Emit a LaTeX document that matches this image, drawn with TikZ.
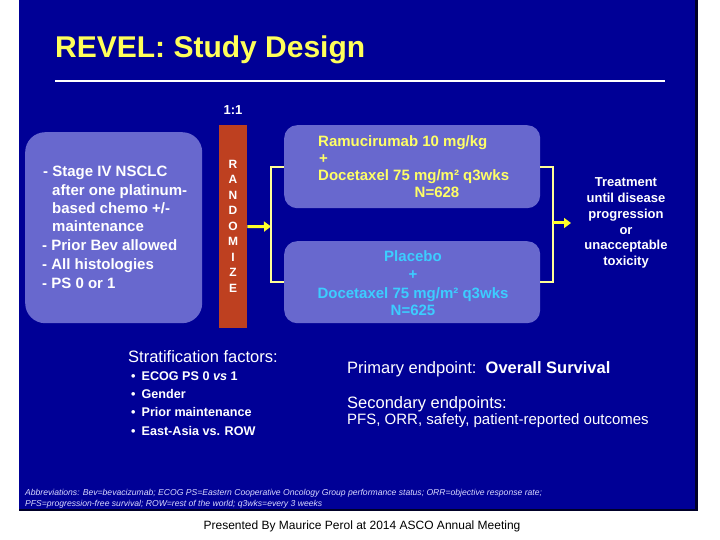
\documentclass[tikz,border=0pt]{standalone}
\usepackage{fontspec}
\setmainfont{Liberation Sans}
\usetikzlibrary{arrows.meta}
\definecolor{slidebg}{RGB}{0,0,150}
\definecolor{slideedge}{RGB}{0,0,40}
\definecolor{boxfill}{RGB}{104,104,206}
\definecolor{rust}{RGB}{190,64,32}
\definecolor{ttlyellow}{RGB}{255,255,90}
\definecolor{armyellow}{RGB}{255,255,102}
\definecolor{armcyan}{RGB}{60,205,255}
\definecolor{brk}{RGB}{255,255,150}
\definecolor{arrowyellow}{RGB}{255,255,40}
\newcommand\setfs[1]{\fontsize{#1bp}{#1bp}\selectfont}
\begin{document}
\begin{tikzpicture}[x=1bp,y=-1bp,
  txt/.style={inner sep=0pt, anchor=base west, text=white},
  ctxt/.style={inner sep=0pt, anchor=base, text=white},
  boxtxt/.style={txt, font=\setfs{15}\bfseries},
  armtop/.style={inner sep=0pt, anchor=base west, text=armyellow, font=\setfs{15}\bfseries},
  armbot/.style={inner sep=0pt, anchor=base, text=armcyan, font=\setfs{15}\bfseries},
  treat/.style={ctxt, font=\setfs{13}\bfseries},
  item/.style={txt, font=\setfs{12.6}\bfseries},
  bigtxt/.style={txt, font=\setfs{16.5}},
  abbr/.style={txt, font=\setfs{8.6}\itshape, text=white!85!blue},
  bracket/.style={draw=brk, line width=2bp},
  arr/.style={draw=arrowyellow, line width=3bp, -{Triangle[length=7bp,width=10bp]}},
  roundbox/.style={fill=boxfill, draw=none, inner sep=0pt}
]
\useasboundingbox (0,0) rectangle (720,540);
\fill[white] (0,0) rectangle (720,540);
\fill[slideedge] (19,0) rectangle (698,511);
\fill[slidebg] (19,0) rectangle (695,508.5);

% title
\node[txt, text=ttlyellow, font=\setfs{30}\bfseries] (title) at (55,58) {REVEL: Study Design};
\draw[white, line width=2bp] (55,81) -- (665,81);

% left eligibility box
\node[roundbox, rounded corners=20bp, minimum width=177bp, minimum height=191bp, anchor=north west] (elig) at (25,132) {};
\node[boxtxt] (e1) at (43,177) {- Stage IV NSCLC};
\node[boxtxt] (e2) at (52,196) {after one platinum-};
\node[boxtxt] (e3) at (52,214) {based chemo +/-};
\node[boxtxt] (e4) at (52,232) {maintenance};
\node[boxtxt] (e5) at (42,251) {- Prior Bev allowed};
\node[boxtxt] (e6) at (42,270) {- All histologies};
\node[boxtxt] (e7) at (42,288) {- PS 0 or 1};

% randomize bar
\node[ctxt, font=\setfs{13}\bfseries] (ratio) at (233,114.5) {1:1};
\node[fill=rust, minimum width=28bp, minimum height=203bp, inner sep=0pt, anchor=north west] (rand) at (219,125) {};
\node[inner sep=0pt, text=white, font=\fontsize{12bp}{15.5bp}\selectfont\bfseries, align=center, anchor=center]
  (randtxt) at (233,226) {R\\A\\N\\D\\O\\M\\I\\Z\\E};

% arms
\node[roundbox, rounded corners=13bp, minimum width=256bp, minimum height=83bp, anchor=north west] (armA) at (284,125) {};
\node[roundbox, rounded corners=13bp, minimum width=256bp, minimum height=82bp, anchor=north west] (armB) at (284,241) {};
\node[armtop] (a1) at (318,147) {Ramucirumab 10 mg/kg};
\node[armtop] (a2) at (319,164) {+};
\node[armtop] (a3) at (318,181) {Docetaxel 75 mg/m² q3wks};
\node[armtop, anchor=base] (a4) at (437,198) {N=628};
\node[armbot] (b1) at (413,262) {Placebo};
\node[armbot] (b2) at (413,280) {+};
\node[armbot] (b3) at (413,298) {Docetaxel 75 mg/m² q3wks};
\node[armbot] (b4) at (413,315) {N=625};

% connectors
\coordinate (lbr) at (271,226.5);
\coordinate (rbr) at (553,223);
\coordinate (rtip) at (571,223);
\draw[arr] (rand.east) -- (lbr);
\draw[bracket] (armA.west) -| (lbr) |- (armB.west);
\draw[bracket] (armA.east) -| (rbr) |- (armB.east);
\draw[arr] (rbr) -- (rtip);

% treatment text
\node[treat] (t1) at (626,187) {Treatment};
\node[treat] (t2) at (626,203) {until disease};
\node[treat] (t3) at (626,219) {progression};
\node[treat] (t4) at (626,235) {or};
\node[treat] (t5) at (626,250) {unacceptable};
\node[treat] (t6) at (626,266) {toxicity};

% stratification
\node[bigtxt] (strat) at (128,362) {Stratification factors:};
\node[item] (s1) at (131,380) {•\hspace{6bp}ECOG PS 0 \textit{vs} 1};
\node[item] (s2) at (131,398) {•\hspace{6bp}Gender};
\node[item] (s3) at (131,416) {•\hspace{6bp}Prior maintenance};
\node[item] (s4) at (131,435) {•\hspace{6bp}East-Asia vs. ROW};

% endpoints
\node[bigtxt] (prim) at (347,373) {Primary endpoint:\ \ \textbf{Overall Survival}};
\node[bigtxt] (sec) at (347,408) {Secondary endpoints:};
\node[txt, font=\setfs{15}] (sec2) at (347,424) {PFS, ORR, safety, patient-reported outcomes};

% abbreviations
\node[abbr] (ab1) at (25,495) {Abbreviations: Bev=bevacizumab; ECOG PS=Eastern Cooperative Oncology Group performance status; ORR=objective response rate;};
\node[abbr] (ab2) at (25,506) {PFS=progression-free survival; ROW=rest of the world; q3wks=every 3 weeks};

% footer
\node[inner sep=0pt, anchor=base, text=black, font=\setfs{12}] (foot) at (362,529) {Presented By Maurice Perol at 2014 ASCO Annual Meeting};
\end{tikzpicture}
\end{document}
